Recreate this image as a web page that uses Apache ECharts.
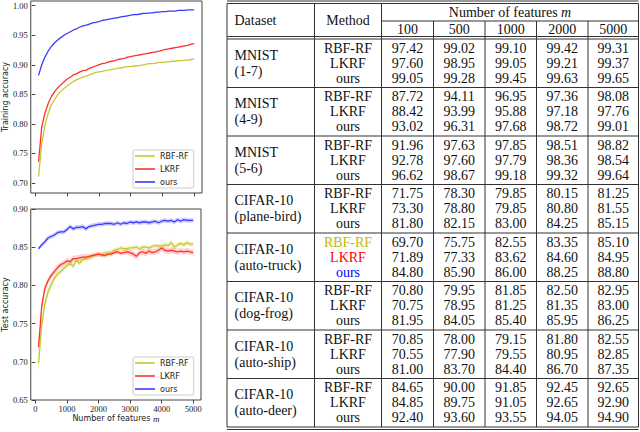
<!DOCTYPE html>
<html><head><meta charset="utf-8">
<script src="https://cdn.jsdelivr.net/npm/echarts@6/dist/echarts.min.js"></script>
<style>html,body{margin:0;padding:0;background:#fff}#c{width:640px;height:432px}</style>
</head><body><div id="c"></div>
<script>
// ---------- chart data ----------
const features = [100,200,300,400,500,600,700,800,900,1000,1100,1200,1300,1400,1500,1600,1700,1800,1900,2000,
  2100,2200,2300,2400,2500,2600,2700,2800,2900,3000,3100,3200,3300,3400,3500,3600,3700,3800,3900,4000,
  4100,4200,4300,4400,4500,4600,4700,4800,4900,5000];
const seriesNames = ['RBF-RF','LKRF','ours'];

const trainRBF = [0.711,0.767,0.797,0.817,0.832,0.841,0.849,0.855,0.860,0.864,0.868,0.872,0.875,0.877,0.879,0.881,0.883,0.885,0.887,0.888,
  0.889,0.890,0.891,0.892,0.893,0.894,0.895,0.896,0.897,0.897,0.898,0.898,0.899,0.900,0.901,0.902,0.902,0.903,0.904,0.904,
  0.905,0.905,0.906,0.906,0.907,0.907,0.908,0.908,0.909,0.910];
const trainLKRF = [0.736,0.795,0.818,0.834,0.846,0.854,0.861,0.866,0.871,0.876,0.879,0.883,0.885,0.888,0.890,0.891,0.894,0.896,0.898,0.900,
  0.902,0.903,0.905,0.906,0.907,0.909,0.910,0.911,0.913,0.914,0.915,0.916,0.917,0.918,0.919,0.920,0.921,0.922,0.923,0.925,
  0.926,0.927,0.928,0.929,0.930,0.931,0.932,0.933,0.935,0.936];
const trainOurs = [0.882,0.900,0.913,0.923,0.931,0.937,0.942,0.946,0.950,0.953,0.956,0.959,0.961,0.964,0.966,0.967,0.969,0.971,0.972,0.973,
  0.975,0.976,0.977,0.978,0.979,0.980,0.981,0.982,0.983,0.984,0.985,0.985,0.986,0.987,0.987,0.988,0.988,0.989,0.989,0.990,
  0.990,0.991,0.991,0.991,0.992,0.992,0.992,0.993,0.993,0.993];

const testRBF = [0.698,0.748,0.776,0.791,0.801,0.809,0.815,0.818,0.822,0.826,0.829,0.825,0.833,0.829,0.834,0.835,0.836,0.838,0.840,0.841,
  0.840,0.842,0.843,0.843,0.846,0.847,0.849,0.848,0.848,0.849,0.849,0.850,0.848,0.850,0.850,0.849,0.851,0.852,0.852,0.851,
  0.853,0.852,0.856,0.850,0.853,0.855,0.853,0.856,0.854,0.854];
const testLKRF = [0.719,0.772,0.796,0.806,0.813,0.818,0.823,0.827,0.829,0.832,0.831,0.835,0.835,0.836,0.837,0.837,0.838,0.839,0.840,0.841,
  0.840,0.839,0.841,0.841,0.843,0.844,0.842,0.843,0.844,0.843,0.841,0.838,0.843,0.844,0.842,0.845,0.843,0.844,0.846,0.849,
  0.846,0.845,0.846,0.845,0.844,0.845,0.844,0.845,0.844,0.843];
const testOurs = [0.848,0.853,0.857,0.862,0.864,0.866,0.869,0.870,0.870,0.873,0.877,0.874,0.876,0.876,0.877,0.874,0.877,0.878,0.879,0.880,
  0.880,0.881,0.881,0.881,0.880,0.882,0.880,0.882,0.881,0.883,0.882,0.883,0.882,0.883,0.883,0.882,0.883,0.884,0.882,0.884,
  0.885,0.884,0.885,0.883,0.886,0.884,0.886,0.885,0.885,0.885];

// half-width of the shaded band around each test curve
const testRBFSpread = [0.012,0.008,0.006,0.005,0.004,0.004,0.004,0.003,0.003,0.003,0.003,0.004,0.003,0.004,0.003,0.003,0.003,0.003,0.003,0.003,
  0.003,0.003,0.003,0.003,0.003,0.003,0.003,0.003,0.003,0.003,0.003,0.003,0.003,0.003,0.003,0.003,0.003,0.003,0.003,0.003,
  0.003,0.003,0.004,0.004,0.003,0.003,0.003,0.003,0.003,0.003];
const testLKRFSpread = [0.006,0.006,0.005,0.004,0.004,0.004,0.004,0.004,0.004,0.004,0.004,0.004,0.004,0.004,0.004,0.004,0.003,0.003,0.003,0.003,
  0.003,0.003,0.003,0.003,0.003,0.003,0.003,0.003,0.004,0.004,0.004,0.004,0.004,0.004,0.004,0.004,0.004,0.004,0.004,0.004,
  0.004,0.004,0.004,0.004,0.004,0.004,0.004,0.004,0.004,0.004];
const testOursSpread = [0.002,0.003,0.003,0.003,0.003,0.003,0.003,0.003,0.003,0.003,0.003,0.003,0.003,0.003,0.003,0.003,0.003,0.003,0.003,0.003,
  0.003,0.003,0.003,0.003,0.003,0.003,0.003,0.003,0.003,0.003,0.003,0.003,0.003,0.003,0.003,0.003,0.003,0.003,0.003,0.003,
  0.003,0.003,0.003,0.003,0.003,0.003,0.003,0.003,0.003,0.003];

const xTicks = [0,1000,2000,3000,4000,5000];
const yTicksTrain = [0.70,0.75,0.80,0.85,0.90,0.95,1.00];
const yTicksTest = [0.65,0.70,0.75,0.80,0.85,0.90];

// ---------- table data ----------
const tableCols = ['100','500','1000','2000','5000'];
const tableMethods = ['RBF-RF','LKRF','ours'];
const datasetLabels = [['MNIST','(1-7)'],['MNIST','(4-9)'],['MNIST','(5-6)'],['CIFAR-10','(plane-bird)'],
  ['CIFAR-10','(auto-truck)'],['CIFAR-10','(dog-frog)'],['CIFAR-10','(auto-ship)'],['CIFAR-10','(auto-deer)']];
const mnist17 = [[97.42,99.02,99.10,99.42,99.31],[97.60,98.95,99.05,99.21,99.37],[99.05,99.28,99.45,99.63,99.65]];
const mnist49 = [[87.72,94.11,96.95,97.36,98.08],[88.42,93.99,95.88,97.18,97.76],[93.02,96.31,97.68,98.72,99.01]];
const mnist56 = [[91.96,97.63,97.85,98.51,98.82],[92.78,97.60,97.79,98.36,98.54],[96.62,98.67,99.18,99.32,99.64]];
const cifarPlaneBird = [[71.75,78.30,79.85,80.15,81.25],[73.30,78.80,79.85,80.80,81.55],[81.80,82.15,83.00,84.25,85.15]];
const cifarAutoTruck = [[69.70,75.75,82.55,83.35,85.10],[71.89,77.33,83.62,84.60,84.95],[84.80,85.90,86.00,88.25,88.80]];
const cifarDogFrog = [[70.80,79.95,81.85,82.50,82.95],[70.75,78.95,81.25,81.35,83.00],[81.95,84.05,85.40,85.95,86.25]];
const cifarAutoShip = [[70.85,78.00,79.15,81.80,82.55],[70.55,77.90,79.55,80.95,82.85],[81.00,83.70,84.40,86.70,87.35]];
const cifarAutoDeer = [[84.65,90.00,91.85,92.45,92.65],[84.85,89.75,91.05,92.65,92.90],[92.40,93.60,93.55,94.05,94.90]];
const tableGroups = [mnist17,mnist49,mnist56,cifarPlaneBird,cifarAutoTruck,cifarDogFrog,cifarAutoShip,cifarAutoDeer];
const highlightGroup = 4;

// ---------- styles ----------
const COLORS = {'RBF-RF':'#c8c830','LKRF':'#ff3030','ours':'#3a3aff'};
const BANDS = {'RBF-RF':'rgba(210,210,60,0.30)','LKRF':'rgba(255,70,70,0.25)','ours':'rgba(70,70,255,0.25)'};
const HL = {'RBF-RF':'#c4b800','LKRF':'#ff0000','ours':'#0000ff'};
const SERIF = '"Liberation Serif", "Times New Roman", serif';
const SANS = '"DejaVu Sans", sans-serif';
const AX = '#444';

function pairs(xs, ys){ return xs.map((x,i)=>[x, ys[i]]); }

const chart = echarts.init(document.getElementById('c'), null, {renderer:'svg'});

function xAxis(gi, showLabel){
  return {
    gridIndex: gi, type:'value', min:-145, max:5245,
    axisLine:{show:false}, splitLine:{show:false},
    axisTick:{show:true, length:3.5, customValues:xTicks, lineStyle:{color:AX}},
    axisLabel:{show:showLabel, customValues:xTicks, formatter:v=>String(v), fontFamily:SERIF, fontSize:8.5, color:'#222', margin:4},
    name: showLabel ? 'Number of features {i|m}' : '', nameLocation:'middle', nameGap:14,
    nameTextStyle:{fontFamily:SANS, fontSize:8, color:'#222', rich:{i:{fontFamily:SERIF, fontStyle:'italic', fontSize:9, color:'#222'}}}
  };
}
function yAxis(gi, min, max, ticks, name){
  return {
    gridIndex: gi, type:'value', min:min, max:max,
    axisLine:{show:false}, splitLine:{show:false},
    axisTick:{show:true, length:3.5, customValues:ticks, lineStyle:{color:AX}},
    axisLabel:{customValues:ticks, formatter:v=>v.toFixed(2), fontFamily:SERIF, fontSize:8.5, color:'#222', margin:3},
    name:name, nameLocation:'middle', nameGap:19,
    nameTextStyle:{fontFamily:SANS, fontSize:8, color:'#222'}
  };
}
function lineSeries(name, gi, ys){
  return {name:name, type:'line', xAxisIndex:gi, yAxisIndex:gi, data:pairs(features, ys),
    showSymbol:false, symbol:'none', smooth:false, z:3,
    lineStyle:{color:COLORS[name], width:1.3}, itemStyle:{color:COLORS[name]}};
}
function bandSeries(name, ys, sp){
  return {name:name+' band', type:'custom', xAxisIndex:1, yAxisIndex:1, silent:true, z:1, clip:true,
    data: features.map((x,i)=>[x, ys[i]-sp[i], ys[i]+sp[i]]),
    encode:{x:0, y:[1,2]},
    renderItem:(params, api)=>{
      if (params.dataIndex !== 0) return null;
      const up = features.map((x,i)=>api.coord([x, ys[i]+sp[i]]));
      const lo = features.map((x,i)=>api.coord([x, ys[i]-sp[i]])).reverse();
      return {type:'polygon', shape:{points:up.concat(lo)}, style:{fill:BANDS[name], stroke:null}};
    }};
}
function legend(top){
  return {orient:'vertical', left:133, top:top, data:seriesNames, icon:'rect', itemWidth:20, itemHeight:1.6, itemGap:3,
    padding:[1,5,1,2], borderColor:'#ccc', borderWidth:1, borderRadius:2, backgroundColor:'rgba(255,255,255,0.85)',
    textStyle:{fontFamily:SANS, fontSize:8, color:'#222', lineHeight:10}, selectedMode:false};
}

// ---------- table as graphic elements ----------
const TB = {colX:[227,314.5,381.5,433.5,485,536.5,588,638.5], top1:1, top2:3.5, sub:21, head1:36.5, head2:39, groupH:48.5,
  bottom2:2.5, font:'14px ' + SERIF, line:'#333', dsX:234.5, methodX:348};
const g = [];
function hline(y, x1, x2){ g.push({type:'line', silent:true, shape:{x1:x1, y1:y, x2:x2, y2:y}, style:{stroke:TB.line, lineWidth:1}}); }
function vline(x, y1, y2){ g.push({type:'line', silent:true, shape:{x1:x, y1:y1, x2:x, y2:y2}, style:{stroke:TB.line, lineWidth:1}}); }
function txt(s, x, y, align, color, rich){
  const st = {text:s, x:x, y:y, font:TB.font, fill:color||'#111', align:align, textAlign:align, verticalAlign:'middle', textVerticalAlign:'middle'};
  if (rich) st.rich = rich;
  g.push({type:'text', silent:true, style:st});
}
const L = TB.colX[0], R = TB.colX[TB.colX.length-1];
const tableBottom = TB.head2 + TB.groupH*tableGroups.length;
hline(TB.top1, L, R); hline(TB.top2, L, R);
hline(TB.sub, TB.colX[2], R);
hline(TB.head1, L, R); hline(TB.head2, L, R);
for (let k=1;k<tableGroups.length;k++) hline(TB.head2 + TB.groupH*k, L, R);
hline(tableBottom, L, R); hline(tableBottom + TB.bottom2, L, R);
[0,1,2,7].forEach(i=>vline(TB.colX[i], TB.top2, tableBottom));
[3,4,5,6].forEach(i=>vline(TB.colX[i], TB.sub, tableBottom));
// header
txt('Dataset', TB.dsX, 20, 'left');
txt('Method', TB.methodX, 20, 'center');
txt('Number of features {i|m}', (TB.colX[2]+R)/2, 12, 'center', '#111', {i:{font:'italic 14px ' + SERIF, fill:'#111'}});
tableCols.forEach((c,j)=>txt(c, (TB.colX[j+2]+TB.colX[j+3])/2, 29, 'center'));
// body
tableGroups.forEach((grp,k)=>{
  const c = TB.head2 + TB.groupH*k + TB.groupH/2;
  txt(datasetLabels[k][0], TB.dsX, c-8, 'left');
  txt(datasetLabels[k][1], TB.dsX, c+8, 'left');
  grp.forEach((row,r)=>{
    const y = c + (r-1)*15;
    txt(tableMethods[r], TB.methodX, y, 'center', k===highlightGroup ? HL[tableMethods[r]] : '#111');
    row.forEach((v,j)=>txt(v.toFixed(2), (TB.colX[j+2]+TB.colX[j+3])/2, y, 'center'));
  });
});

const option = {
  animation:false,
  grid:[
    {left:29, top:1, width:173, height:192, show:true, borderColor:AX, borderWidth:1, backgroundColor:'transparent'},
    {left:29, top:209, width:172, height:191, show:true, borderColor:AX, borderWidth:1, backgroundColor:'transparent'}
  ],
  xAxis:[xAxis(0,false), xAxis(1,true)],
  yAxis:[yAxis(0,0.683,1.008,yTicksTrain,'Training accuracy'), yAxis(1,0.65,0.90,yTicksTest,'Test accuracy')],
  legend:[legend(150), legend(357)],
  series:[
    lineSeries('RBF-RF',0,trainRBF), lineSeries('LKRF',0,trainLKRF), lineSeries('ours',0,trainOurs),
    bandSeries('RBF-RF',testRBF,testRBFSpread), bandSeries('LKRF',testLKRF,testLKRFSpread), bandSeries('ours',testOurs,testOursSpread),
    lineSeries('RBF-RF',1,testRBF), lineSeries('LKRF',1,testLKRF), lineSeries('ours',1,testOurs)
  ],
  graphic:g
};
chart.setOption(option);
</script>
</body></html>
